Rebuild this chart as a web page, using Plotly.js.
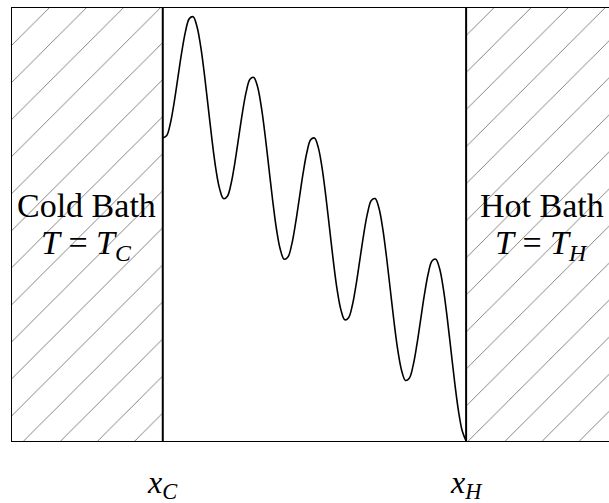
<!DOCTYPE html>
<html>
<head>
<meta charset="utf-8">
<script src="https://cdn.plot.ly/plotly-3.0.1.min.js"></script>
<style>html,body{margin:0;padding:0;background:#fff}</style>
</head>
<body>
<div id="chart" style="width:609px;height:503px"></div>
<script>
// Position between the baths (x_C = 0, x_H = 1) and the potential
const position = [0,0.0125,0.025,0.0375,0.05,0.0625,0.075,0.0875,0.1,0.1125,0.125,0.1375,0.15,0.1625,0.175,0.1875,
  0.2,0.2125,0.225,0.2375,0.25,0.2625,0.275,0.2875,0.3,0.3125,0.325,0.3375,0.35,0.3625,0.375,0.3875,
  0.4,0.4125,0.425,0.4375,0.45,0.4625,0.475,0.4875,0.5,0.5125,0.525,0.5375,0.55,0.5625,0.575,0.5875,
  0.6,0.6125,0.625,0.6375,0.65,0.6625,0.675,0.6875,0.7,0.7125,0.725,0.7375,0.75,0.7625,0.775,0.7875,
  0.8,0.8125,0.825,0.8375,0.85,0.8625,0.875,0.8875,0.9,0.9125,0.925,0.9375,0.95,0.9625,0.975,0.9875,1];
const potential = [1.000,1.007,1.048,1.117,1.200,1.283,1.352,1.394,1.400,1.369,1.302,1.208,1.100,0.992,0.898,0.832,
  0.800,0.807,0.848,0.917,1.000,1.083,1.152,1.194,1.200,1.169,1.102,1.008,0.900,0.792,0.698,0.632,
  0.600,0.607,0.648,0.717,0.800,0.883,0.952,0.994,1.000,0.969,0.902,0.808,0.700,0.592,0.498,0.432,
  0.400,0.407,0.448,0.517,0.600,0.683,0.752,0.794,0.800,0.769,0.702,0.608,0.500,0.392,0.298,0.232,
  0.200,0.207,0.248,0.317,0.400,0.483,0.552,0.594,0.600,0.569,0.502,0.408,0.300,0.192,0.098,0.032,0.000];

const wallPositions = [0, 1];
const wallLabels = ['<i>x</i><sub><i>C</i></sub>', '<i>x</i><sub><i>H</i></sub>'];
const bathNames = ['Cold Bath', 'Hot Bath'];
const bathTemps = ['<i>T</i> = <i>T</i><sub><i>C</i></sub>', '<i>T</i> = <i>T</i><sub><i>H</i></sub>'];
const bathCenters = [-0.25, 1.25];

const xRange = [-0.497, 1.471];
const yRange = [0, 1.429];
const FONT = 'Liberation Serif, Times New Roman, serif';

const hatch = {shape: '/', size: 26.2, solidity: 0.035, fgcolor: '#7a7a7a', bgcolor: '#ffffff', fillmode: 'replace'};
const yTop = yRange[1] + 0.05;

const coldX = [xRange[0] - 0.05, wallPositions[0], wallPositions[0], xRange[0] - 0.05, xRange[0] - 0.05];
const hotX = [wallPositions[1], xRange[1] + 0.05, xRange[1] + 0.05, wallPositions[1], wallPositions[1]];
const boxY = [-0.05, -0.05, yTop, yTop, -0.05];

const traces = [
  {x: coldX, y: boxY, type: 'scatter', mode: 'lines', fill: 'toself', fillcolor: '#ffffff',
   fillpattern: hatch, line: {width: 0, color: 'rgba(0,0,0,0)'}, hoverinfo: 'skip'},
  {x: hotX, y: boxY, type: 'scatter', mode: 'lines', fill: 'toself', fillcolor: '#ffffff',
   fillpattern: hatch, line: {width: 0, color: 'rgba(0,0,0,0)'}, hoverinfo: 'skip'},
  {x: position, y: potential, type: 'scatter', mode: 'lines',
   line: {color: '#000', width: 1.6, shape: 'spline', smoothing: 1}, hoverinfo: 'skip'}
];

const shapes = wallPositions.map(w => ({
  type: 'line', xref: 'x', yref: 'paper', x0: w, x1: w, y0: 0, y1: 1,
  line: {color: '#000', width: 2}, layer: 'above'
}));

const annotations = [];
wallPositions.forEach((w, i) => {
  annotations.push({x: w, y: -0.1, xref: 'x', yref: 'paper', text: wallLabels[i],
    showarrow: false, xanchor: 'center', yanchor: 'middle', height: 44,
    font: {family: FONT, size: 32, color: '#000'}});
});
bathCenters.forEach((c, i) => {
  annotations.push({x: c, y: 0.545, xref: 'x', yref: 'paper', text: bathNames[i],
    showarrow: false, xanchor: 'center', yanchor: 'middle', font: {family: FONT, size: 34, color: '#000'}});
  annotations.push({x: c, y: 0.452, xref: 'x', yref: 'paper', text: bathTemps[i],
    showarrow: false, xanchor: 'center', yanchor: 'middle', height: 46,
    font: {family: FONT, size: 34, color: '#000'}});
});

const layout = {
  width: 609, height: 503,
  margin: {l: 12, r: 0, t: 8, b: 62, pad: 0},
  paper_bgcolor: '#fff', plot_bgcolor: '#fff',
  showlegend: false,
  xaxis: {range: xRange, showgrid: false, zeroline: false, showline: true, mirror: true,
    linecolor: '#000', linewidth: 1, showticklabels: false, ticks: '', fixedrange: true},
  yaxis: {range: yRange, showgrid: false, zeroline: false, showline: true, mirror: false,
    linecolor: '#000', linewidth: 1, showticklabels: false, ticks: '', fixedrange: true},
  shapes: shapes,
  annotations: annotations
};

Plotly.newPlot('chart', traces, layout, {displayModeBar: false, staticPlot: true});
</script>
</body>
</html>
